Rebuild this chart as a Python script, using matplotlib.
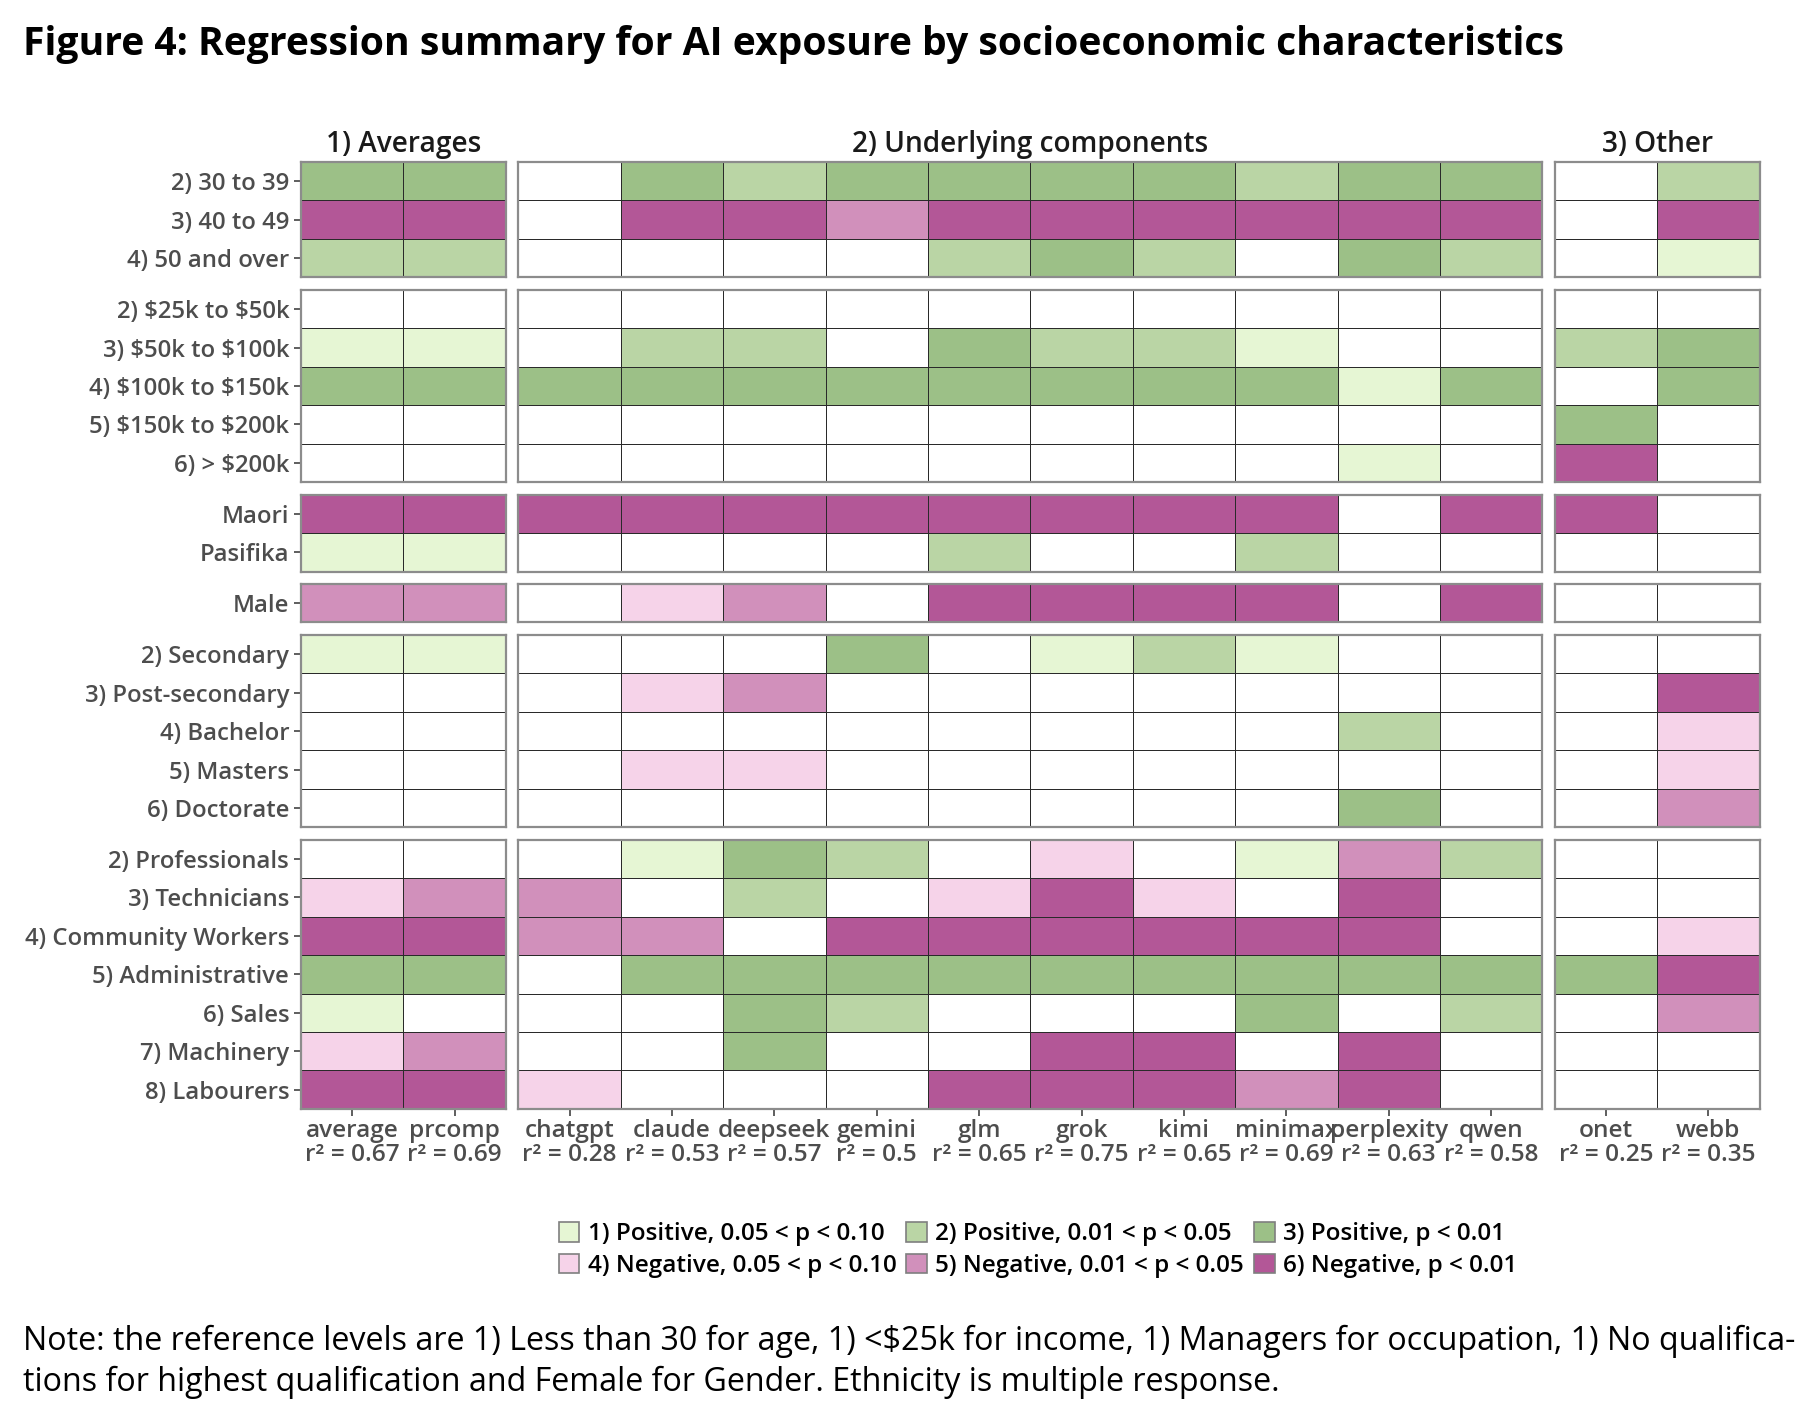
import numpy as np
import matplotlib
matplotlib.use("Agg")
import matplotlib.pyplot as plt
from matplotlib.colors import ListedColormap, BoundaryNorm
from matplotlib.patches import Patch

plt.rcParams['font.family'] = ['Open Sans', 'DejaVu Sans']
plt.rcParams['text.parse_math'] = False

# -------------------------
# Data
# -------------------------
panel_titles = ["1) Averages", "2) Underlying components", "3) Other"]
panel_cols = [
    ["average", "prcomp"],
    ["chatgpt", "claude", "deepseek", "gemini", "glm", "grok", "kimi",
     "minimax", "perplexity", "qwen"],
    ["onet", "webb"],
]
r2_values = [
    ["0.67", "0.69"],
    ["0.28", "0.53", "0.57", "0.5", "0.65", "0.75", "0.65", "0.69", "0.63", "0.58"],
    ["0.25", "0.35"],
]

# significance code: 0 = n.s., 1-3 positive, 4-6 negative
# columns: average prcomp | chatgpt claude deepseek gemini glm grok kimi minimax perplexity qwen | onet webb
age_rows = ["2) 30 to 39", "3) 40 to 49", "4) 50 and over"]
age_sig = [
    [3, 3, 0, 3, 2, 3, 3, 3, 3, 2, 3, 3, 0, 2],
    [6, 6, 0, 6, 6, 5, 6, 6, 6, 6, 6, 6, 0, 6],
    [2, 2, 0, 0, 0, 0, 2, 3, 2, 0, 3, 2, 0, 1],
]
income_rows = ["2) $25k to $50k", "3) $50k to $100k", "4) $100k to $150k",
               "5) $150k to $200k", "6) > $200k"]
income_sig = [
    [0, 0, 0, 0, 0, 0, 0, 0, 0, 0, 0, 0, 0, 0],
    [1, 1, 0, 2, 2, 0, 3, 2, 2, 1, 0, 0, 2, 3],
    [3, 3, 3, 3, 3, 3, 3, 3, 3, 3, 1, 3, 0, 3],
    [0, 0, 0, 0, 0, 0, 0, 0, 0, 0, 0, 0, 3, 0],
    [0, 0, 0, 0, 0, 0, 0, 0, 0, 0, 1, 0, 6, 0],
]
ethnic_rows = ["Maori", "Pasifika"]
ethnic_sig = [
    [6, 6, 6, 6, 6, 6, 6, 6, 6, 6, 0, 6, 6, 0],
    [1, 1, 0, 0, 0, 0, 2, 0, 0, 2, 0, 0, 0, 0],
]
gender_rows = ["Male"]
gender_sig = [
    [5, 5, 0, 4, 5, 0, 6, 6, 6, 6, 0, 6, 0, 0],
]
educ_rows = ["2) Secondary", "3) Post-secondary", "4) Bachelor", "5) Masters",
             "6) Doctorate"]
educ_sig = [
    [1, 1, 0, 0, 0, 3, 0, 1, 2, 1, 0, 0, 0, 0],
    [0, 0, 0, 4, 5, 0, 0, 0, 0, 0, 0, 0, 0, 6],
    [0, 0, 0, 0, 0, 0, 0, 0, 0, 0, 2, 0, 0, 4],
    [0, 0, 0, 4, 4, 0, 0, 0, 0, 0, 0, 0, 0, 4],
    [0, 0, 0, 0, 0, 0, 0, 0, 0, 0, 3, 0, 0, 5],
]
occ_rows = ["2) Professionals", "3) Technicians", "4) Community Workers",
            "5) Administrative", "6) Sales", "7) Machinery", "8) Labourers"]
occ_sig = [
    [0, 0, 0, 1, 3, 2, 0, 4, 0, 1, 5, 2, 0, 0],
    [4, 5, 5, 0, 2, 0, 4, 6, 4, 0, 6, 0, 0, 0],
    [6, 6, 5, 5, 0, 6, 6, 6, 6, 6, 6, 0, 0, 4],
    [3, 3, 0, 3, 3, 3, 3, 3, 3, 3, 3, 3, 3, 6],
    [1, 0, 0, 0, 3, 2, 0, 0, 0, 3, 0, 2, 0, 5],
    [4, 5, 0, 0, 3, 0, 0, 6, 6, 0, 6, 0, 0, 0],
    [6, 6, 4, 0, 0, 0, 6, 6, 6, 5, 6, 0, 0, 0],
]

row_groups = [
    (age_rows, age_sig),
    (income_rows, income_sig),
    (ethnic_rows, ethnic_sig),
    (gender_rows, gender_sig),
    (educ_rows, educ_sig),
    (occ_rows, occ_sig),
]

legend_labels = [
    "1) Positive, 0.05 < p < 0.10",
    "2) Positive, 0.01 < p < 0.05",
    "3) Positive, p < 0.01",
    "4) Negative, 0.05 < p < 0.10",
    "5) Negative, 0.01 < p < 0.05",
    "6) Negative, p < 0.01",
]
sig_colors = ["#FFFFFF", "#E6F6D4", "#BAD5A5", "#9CC087",
              "#F6D3E9", "#D190BB", "#B35797"]

title = "Figure 4: Regression summary for AI exposure by socioeconomic characteristics"
note = ("Note: the reference levels are 1) Less than 30 for age, 1) <$25k for income, "
        "1) Managers for occupation, 1) No qualifica-\n"
        "tions for highest qualification and Female for Gender. Ethnicity is multiple response.")

# -------------------------
# Layout (pixels)
# -------------------------
W, H = 1820, 1410
left_px, top_px = 301, 162
cell_w, cell_h = 102.4, 38.45
gap = 12.5

cmap = ListedColormap(sig_colors)
norm = BoundaryNorm(np.arange(-0.5, 7.5, 1), cmap.N)
label_color = "#4D4D4D"

fig = plt.figure(figsize=(W / 100, H / 100), dpi=100)

col_start = [0, 2, 12]
y_px = top_px
for gi, (rlabels, sig) in enumerate(row_groups):
    nrows = len(rlabels)
    x_px = left_px
    sig = np.array(sig)
    for pi, cols in enumerate(panel_cols):
        ncols = len(cols)
        w = ncols * cell_w
        h = nrows * cell_h
        ax = fig.add_axes([x_px / W, 1 - (y_px + h) / H, w / W, h / H])
        data = sig[:, col_start[pi]:col_start[pi] + ncols]
        ax.pcolormesh(np.arange(ncols + 1), np.arange(nrows + 1), data,
                      cmap=cmap, norm=norm, edgecolors="#2A2A2A", linewidth=0.6)
        ax.set_xlim(0, ncols)
        ax.set_ylim(nrows, 0)
        for s in ax.spines.values():
            s.set_color("#8C8C8C")
            s.set_linewidth(1.6)
        ax.tick_params(colors="#333333", length=5, width=1.1,
                       labelcolor=label_color, labelsize=17.2)
        if pi == 0:
            ax.set_yticks(np.arange(nrows) + 0.5)
            ax.set_yticklabels(rlabels, fontweight="semibold")
        else:
            ax.set_yticks([])
        if gi == len(row_groups) - 1:
            ax.set_xticks(np.arange(ncols) + 0.5)
            ax.set_xticklabels([f"{c}\nr\u00b2 = {r}" for c, r in zip(cols, r2_values[pi])],
                               fontweight="semibold", linespacing=1.0, fontsize=17.6)
            ax.tick_params(axis="x", pad=2)
        else:
            ax.set_xticks([])
        if gi == 0:
            ax.set_title(panel_titles[pi], fontsize=20.2, color="#1A1A1A",
                         fontweight="semibold", pad=7)
        x_px += w + gap
    y_px += nrows * cell_h + gap

# -------------------------
# Legend
# -------------------------
handles = [Patch(facecolor=c, edgecolor="#7F7F7F", linewidth=1.2) for c in sig_colors[1:]]
order = [0, 3, 1, 4, 2, 5]
fig.legend([handles[i] for i in order], [legend_labels[i] for i in order],
           ncol=3, loc="center", bbox_to_anchor=(1038 / W, 1 - 1250 / H),
           frameon=False, handlelength=0.85, handleheight=0.85, handletextpad=0.35,
           columnspacing=0.4, labelspacing=0.3, borderpad=0,
           prop={"size": 17.5, "weight": "semibold"})

fig.text(23 / W, 1 - 45 / H, title, fontsize=28.2, fontweight="bold",
         ha="left", va="center")
fig.text(23 / W, 1 - 1362 / H, note, fontsize=23.2, ha="left", va="center",
         linespacing=1.3)

fig.savefig("out.png", dpi=100)
